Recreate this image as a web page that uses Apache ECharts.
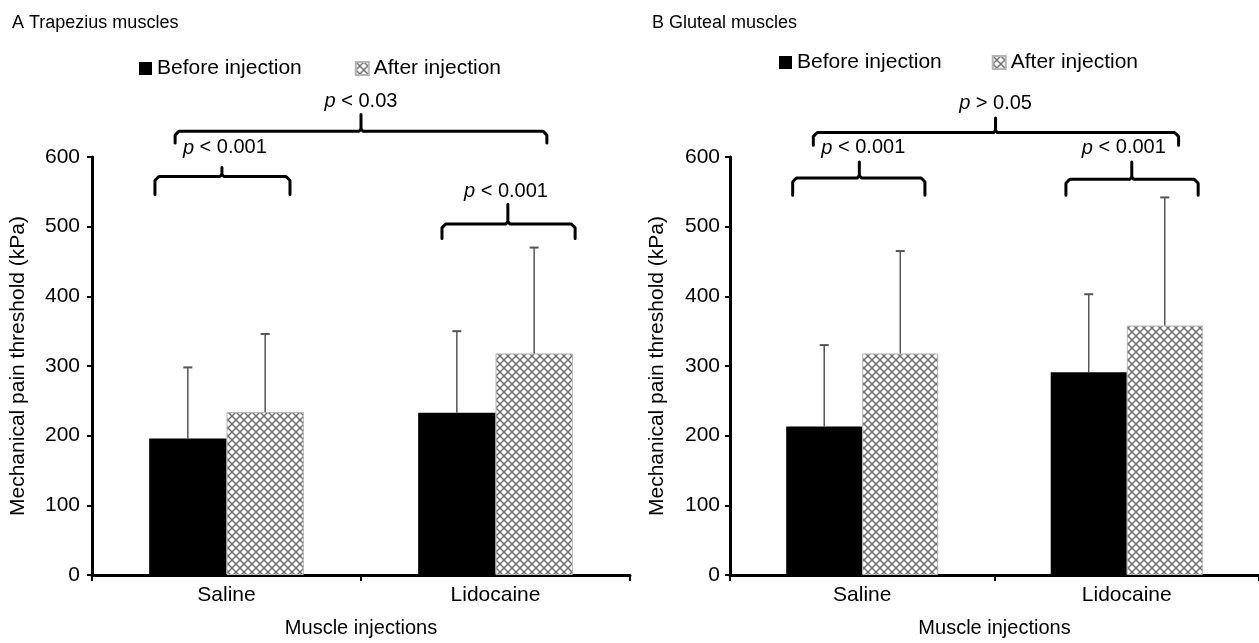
<!DOCTYPE html>
<html>
<head>
<meta charset="utf-8">
<script src="https://cdn.jsdelivr.net/npm/echarts@6/dist/echarts.min.js"></script>
<style>
html,body{margin:0;padding:0;background:#fff;}
#chart{width:1259px;height:643px;}
</style>
</head>
<body>
<div id="chart"></div>
<script>
// ---- data ----
const categories = ['Saline', 'Lidocaine'];
const seriesNames = ['Before injection', 'After injection'];
const yMin = 0, yMax = 600, yInterval = 100;

// A: Trapezius muscles (mean, SD)
const trapBefore = [196, 233];
const trapBeforeSD = [102, 117];
const trapAfter = [234, 318];
const trapAfterSD = [112, 152];

// B: Gluteal muscles (mean, SD)
const glutBefore = [213, 291];
const glutBeforeSD = [117, 112];
const glutAfter = [318, 358];
const glutAfterSD = [147, 184];

// significance brackets: [from, to, mid, level, drop, peak, textX, textY] in axis units
const trapBrackets = [
  [0.309, 1.691, 1.000, 637, 620, 661, 1.000, 680],
  [0.234, 0.736, 0.483, 572, 546, 585, 0.494, 613],
  [1.301, 1.796, 1.546, 504, 483, 532, 1.539, 551]
];
const trapLabels = ['< 0.03', '< 0.001', '< 0.001'];
const glutBrackets = [
  [0.315, 1.696, 1.004, 635, 617, 656, 1.004, 677],
  [0.237, 0.737, 0.489, 570, 545, 593, 0.504, 613],
  [1.270, 1.770, 1.519, 568, 545, 593, 1.489, 613]
];
const glutLabels = ['> 0.05', '< 0.001', '< 0.001'];

// ---- styles ----
const FONT = "'Liberation Sans', Arial, Helvetica, sans-serif";
const catGap = 0.425;

function hatch() {
  const c = document.createElement('canvas');
  c.width = 8; c.height = 8;
  const g = c.getContext('2d');
  g.fillStyle = '#fff';
  g.fillRect(0, 0, 8, 8);
  g.strokeStyle = '#6a6a6a';
  g.lineWidth = 1.4;
  g.beginPath();
  g.moveTo(0, 0); g.lineTo(8, 8);
  g.moveTo(0, 8); g.lineTo(8, 0);
  g.stroke();
  return c;
}
const hatchPattern = { image: hatch(), repeat: 'repeat' };

function errorSeries(xi, yi, means, sds, side) {
  return {
    type: 'custom', xAxisIndex: xi, yAxisIndex: yi, silent: true, z: 5,
    data: means.map((m, i) => [i, m, m + sds[i]]),
    renderItem: function (params, api) {
      const band = api.size([1, 0])[0];
      const bw = band * (1 - catGap) / 2;
      const base = api.coord([api.value(0), api.value(1)]);
      const top = api.coord([api.value(0), api.value(2)]);
      const x = base[0] + side * bw / 2;
      return {
        type: 'group', children: [
          { type: 'line', shape: { x1: x, y1: base[1], x2: x, y2: top[1] }, style: { stroke: '#555', lineWidth: 1.5 } },
          { type: 'line', shape: { x1: x - 4.5, y1: top[1], x2: x + 4.5, y2: top[1] }, style: { stroke: '#555', lineWidth: 2 } }
        ]
      };
    }
  };
}

function bracketSeries(xi, yi, brackets, labels) {
  return {
    type: 'custom', xAxisIndex: xi, yAxisIndex: yi, silent: true, z: 6, clip: false,
    data: brackets.map((b, i) => b.concat([i])),
    renderItem: function (params, api) {
      const p1 = api.coord([api.value(0), api.value(3)]);
      const p2 = api.coord([api.value(1), api.value(3)]);
      const pm = api.coord([api.value(2), api.value(3)]);
      const yDrop = api.coord([api.value(0), api.value(4)])[1];
      const yPeak = api.coord([api.value(2), api.value(5)])[1];
      const t = api.coord([api.value(6), api.value(7)]);
      const yH = p1[1], r = 4;
      const lbl = labels[api.value(8)];
      const ls = { stroke: '#000', lineWidth: 3, fill: null, lineJoin: 'round', lineCap: 'round' };
      return {
        type: 'group', children: [
          { type: 'polyline', shape: { points: [[p1[0], yDrop], [p1[0], yH + r], [p1[0] + r * 0.6, yH + r * 0.35], [p1[0] + r, yH], [pm[0] - 2, yH], [pm[0], yH - 2], [pm[0], yPeak]] }, style: ls },
          { type: 'polyline', shape: { points: [[pm[0], yH - 2], [pm[0] + 2, yH], [p2[0] - r, yH], [p2[0] - r * 0.6, yH + r * 0.35], [p2[0], yH + r], [p2[0], yDrop]] }, style: ls },
          { type: 'text', x: t[0], y: t[1], style: {
              text: '{i|p} ' + lbl, align: 'center', verticalAlign: 'middle',
              fontSize: 20, fontFamily: FONT, fill: '#000',
              rich: { i: { fontStyle: 'italic', fontSize: 20, fontFamily: FONT, fill: '#000' } }
            } }
        ]
      };
    }
  };
}

function gridAxes(gi) {
  return {
    x: {
      type: 'category', gridIndex: gi, data: categories,
      axisLine: { lineStyle: { color: '#000', width: 3 } },
      axisTick: { show: true, length: 6, alignWithLabel: false, lineStyle: { color: '#000', width: 2 } },
      axisLabel: { color: '#000', fontSize: 21, fontFamily: FONT, margin: 10 },
      name: 'Muscle injections', nameLocation: 'middle', nameGap: 43,
      nameTextStyle: { color: '#000', fontSize: 20, fontFamily: FONT },
      splitLine: { show: false }
    },
    xv: { type: 'value', gridIndex: gi, min: 0, max: 2, show: false },
    y: {
      type: 'value', gridIndex: gi, min: yMin, max: yMax, interval: yInterval,
      axisLine: { show: true, lineStyle: { color: '#000', width: 3 } },
      axisTick: { show: true, length: 5, lineStyle: { color: '#000', width: 2 } },
      axisLabel: { color: '#000', fontSize: 21, fontFamily: FONT, margin: gi === 0 ? 12 : 10 },
      splitLine: { show: false },
      name: 'Mechanical pain threshold (kPa)', nameLocation: 'middle', nameGap: gi === 0 ? 63 : 62,
      nameTextStyle: { color: '#000', fontSize: 21, fontFamily: FONT }
    }
  };
}

const a0 = gridAxes(0), a1 = gridAxes(1);

function barSeries(xi, yi, name, data) {
  const before = name === seriesNames[0];
  return {
    type: 'bar', name: name, xAxisIndex: xi, yAxisIndex: yi, data: data,
    barGap: '0%', barCategoryGap: (catGap * 100) + '%',
    itemStyle: before ? { color: '#000' } : { color: hatchPattern, borderColor: '#b5b5b5', borderWidth: 1 },
    emphasis: { disabled: true }
  };
}

const legendData = [{ name: seriesNames[0], icon: 'rect' }, { name: seriesNames[1], icon: 'rect' }];

const chart = echarts.init(document.getElementById('chart'), null, { renderer: 'canvas' });
chart.setOption({
  animation: false,
  backgroundColor: '#fff',
  textStyle: { fontFamily: FONT },
  title: [
    { text: 'A Trapezius muscles', left: 7, top: 9, textStyle: { fontSize: 18, fontWeight: 'normal', color: '#000', fontFamily: FONT } },
    { text: 'B Gluteal muscles', left: 647, top: 9, textStyle: { fontSize: 18, fontWeight: 'normal', color: '#000', fontFamily: FONT } }
  ],
  legend: [
    { left: 139, top: 58, padding: 0, itemWidth: 13, itemHeight: 13, itemGap: 53, data: legendData,
      textStyle: { fontSize: 21, color: '#000', fontFamily: FONT }, selectedMode: false },
    { left: 779, top: 52, padding: 0, itemWidth: 13, itemHeight: 13, itemGap: 50, data: legendData,
      textStyle: { fontSize: 21, color: '#000', fontFamily: FONT }, selectedMode: false }
  ],
  grid: [
    { left: 92, top: 157, width: 538, height: 425 },
    { left: 730, top: 157, width: 540, height: 426 }
  ],
  xAxis: [a0.x, a0.xv, a1.x, a1.xv],
  yAxis: [a0.y, a1.y],
  series: [
    barSeries(0, 0, seriesNames[0], trapBefore),
    barSeries(0, 0, seriesNames[1], trapAfter),
    barSeries(2, 1, seriesNames[0], glutBefore),
    barSeries(2, 1, seriesNames[1], glutAfter),
    errorSeries(0, 0, trapBefore, trapBeforeSD, -1),
    errorSeries(0, 0, trapAfter, trapAfterSD, 1),
    errorSeries(2, 1, glutBefore, glutBeforeSD, -1),
    errorSeries(2, 1, glutAfter, glutAfterSD, 1),
    bracketSeries(1, 0, trapBrackets, trapLabels),
    bracketSeries(3, 1, glutBrackets, glutLabels)
  ]
});
</script>
</body>
</html>
